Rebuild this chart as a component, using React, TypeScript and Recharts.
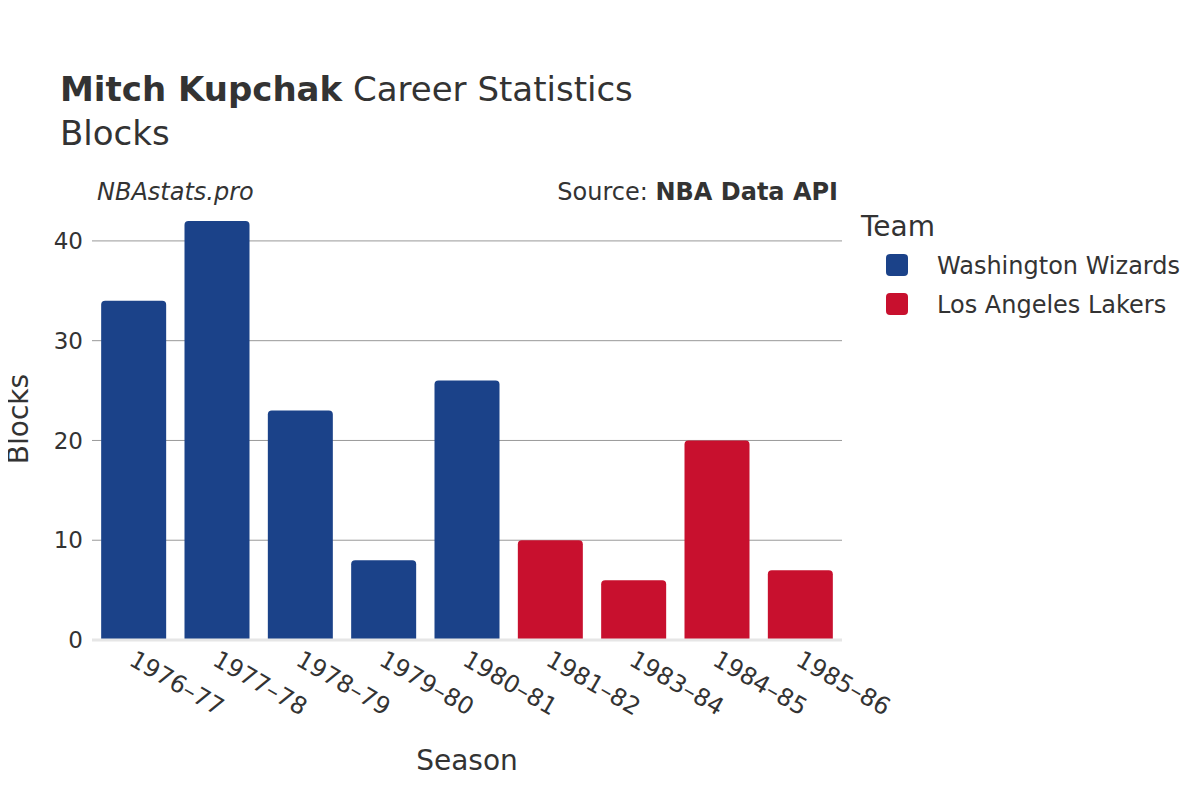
import React from "react";
import { BarChart, Bar, XAxis, YAxis, CartesianGrid } from "recharts";

const seasons = ["1976-77", "1977-78", "1978-79", "1979-80", "1980-81", "1981-82", "1983-84", "1984-85", "1985-86"];
const wizards = [34, 42, 23, 8, 26, null, null, null, null];
const lakers = [null, null, null, null, null, 10, 6, 20, 7];
const yTicks = [0, 10, 20, 30, 40];
const gridValues = [10, 20, 30, 40];
const teams = ["Washington Wizards", "Los Angeles Lakers"];
const colors = ["#1b4289", "#c8102e"];

const data = seasons.map((s, i) => ({ season: s, wiz: wizards[i], lak: lakers[i] }));

const FONT = "DejaVu Sans, sans-serif";
const TXT = "#333333";

const SeasonTick = (props: any) => {
  const { x, y, payload } = props;
  return (
    <g transform={`translate(${x + 3},${y + 1})`}>
      <text transform="rotate(30)" textAnchor="start" dominantBaseline="hanging" fontSize={24} fill={TXT} fontFamily={FONT}>
        {payload.value.replace("-", "–")}
      </text>
    </g>
  );
};

export default function App() {
  return (
    <div style={{ position: "relative", width: 1200, height: 800, fontFamily: FONT }}>
      <BarChart
        width={1200}
        height={800}
        data={data}
        margin={{ top: 193, right: 366, bottom: 68, left: 24 }}
        barCategoryGap="11%"
      >
        <CartesianGrid vertical={false} stroke="#999999" strokeWidth={1} horizontalValues={gridValues} />
        <XAxis
          dataKey="season"
          height={100}
          tick={<SeasonTick />}
          tickLine={false}
          axisLine={{ stroke: "#e6e6e6", strokeWidth: 3 }}
          interval={0}
        />
        <YAxis
          width={60}
          domain={[0, 44]}
          ticks={yTicks}
          tickLine={false}
          axisLine={false}
          tick={{ fontSize: 23, fill: TXT, fontFamily: FONT }}
          tickMargin={3}
        />
        <Bar dataKey="wiz" stackId="a" fill={colors[0]} radius={[4, 4, 0, 0]} isAnimationActive={false} />
        <Bar dataKey="lak" stackId="a" fill={colors[1]} radius={[4, 4, 0, 0]} isAnimationActive={false} />
      </BarChart>
      <svg width={1200} height={800} style={{ position: "absolute", left: 0, top: 0, pointerEvents: "none", overflow: "visible" }} fontFamily={FONT}>
        <text x={52} y={93} fontSize={34} fill={TXT}>
          <tspan fontWeight="bold">Mitch Kupchak</tspan>
          <tspan> Career Statistics</tspan>
        </text>
        <text x={52} y={137} fontSize={34} fill={TXT}>Blocks</text>
        <text x={89} y={192} fontSize={24} fontStyle="italic" fill={TXT}>NBAstats.pro</text>
        <text x={830} y={192} fontSize={24} textAnchor="end" fill={TXT}>
          <tspan>Source: </tspan>
          <tspan fontWeight="bold">NBA Data API</tspan>
        </text>
        <text transform="translate(20,411) rotate(-90)" fontSize={28} textAnchor="middle" fill={TXT}>Blocks</text>
        <text x={459} y={762} fontSize={28} textAnchor="middle" fill={TXT}>Season</text>
        <text x={853} y={228} fontSize={28} fill={TXT}>Team</text>
        {teams.map((t, i) => (
          <g key={t}>
            <rect x={878} y={246 + i * 39} width={22} height={22} rx={4} fill={colors[i]} />
            <text x={929} y={266 + i * 39} fontSize={24} fill={TXT}>{t}</text>
          </g>
        ))}
      </svg>
    </div>
  );
}
